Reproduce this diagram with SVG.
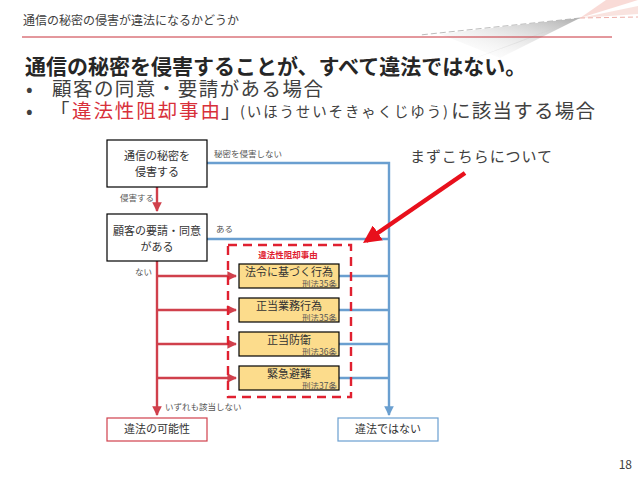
<svg xmlns="http://www.w3.org/2000/svg" width="638" height="479" viewBox="0 0 638 479">
<defs>
<style>
text{font-family:"Noto Sans CJK JP","Noto Sans",sans-serif;fill:#404040}
.box{fill:#fff;stroke:#000;stroke-width:1.2}
.yb{fill:#fcdc8c;stroke:#000;stroke-width:1.2}
.c{text-anchor:middle}
.lbl{font-size:8.5px;fill:#555}
.main{font-size:11px;fill:#333}
.sub{font-size:8.5px;fill:#555;text-anchor:end}
.big{font-size:19.5px}
.red{stroke:#d0404c;stroke-width:2.4;fill:none}
.blue{stroke:#6a9fd0;stroke-width:2.4;fill:none}
</style>
<marker id="ar" viewBox="0 0 10 10" refX="9" refY="5" markerWidth="4" markerHeight="4" orient="auto"><path d="M0,0L10,5L0,10z" fill="#d0404c"/></marker>
<marker id="ab" viewBox="0 0 10 10" refX="9" refY="5" markerWidth="4" markerHeight="4" orient="auto"><path d="M0,0L10,5L0,10z" fill="#6a9fd0"/></marker>
<marker id="abig" viewBox="0 0 10 10" refX="8" refY="5" markerWidth="4" markerHeight="4" orient="auto"><path d="M0,0L10,5L0,10z" fill="#e8101c"/></marker>
<linearGradient id="g1" x1="1" y1="0" x2="0" y2="1"><stop offset="0" stop-color="#999"/><stop offset="1" stop-color="#fff" stop-opacity="0"/></linearGradient>
</defs>
<g id="decoration">
<polygon points="580,18 440,34 500,58" fill="url(#g1)" opacity="0.8"/>
<polygon points="580,18 520,42 470,60" fill="#ccc" opacity="0.4"/>
<line x1="580" y1="18" x2="420" y2="35" stroke="#aaa" stroke-width="0.8" stroke-dasharray="6,3"/>
<polygon points="580,18 606,0 638,0" fill="#f4b8b0" opacity="0.5"/>
<polygon points="580,18 638,6 638,14" fill="#f4c8c0" opacity="0.5"/>
<line x1="580" y1="18" x2="638" y2="17" stroke="#e89890" stroke-width="0.8" stroke-dasharray="5,3"/>
<line x1="22" y1="37" x2="612" y2="37" stroke="#c8303a" stroke-width="1"/>
</g>
<g id="header">
<text x="23" y="25" font-size="12" fill="#404040">通信の秘密の侵害が違法になるかどうか</text>
<text x="25" y="74" font-size="21" font-weight="bold" style="fill:#262626">通信の秘密を侵害することが、すべて違法ではない。</text>
<text x="26" y="96" class="big">•</text>
<text x="52" y="96" class="big" textLength="271" lengthAdjust="spacing">顧客の同意・要請がある場合</text>
<text x="26" y="118" class="big">•</text>
<text x="50" y="118" class="big">「</text>
<text x="72" y="118" class="big" textLength="148" lengthAdjust="spacing" style="fill:#d8303a">違法性阻却事由</text>
<text x="221" y="118" class="big">」</text>
<text x="240" y="117" font-size="14.5" textLength="208" lengthAdjust="spacing">(いほうせいそきゃくじゆう)</text>
<text x="451" y="118" class="big" textLength="144" lengthAdjust="spacing">に該当する場合</text>
</g>
<g id="connectors">
<path class="blue" d="M207,163H389V415" marker-end="url(#ab)"/>
<path class="blue" d="M207,239H389"/>
<path class="blue" d="M339,276H389M339,310H389M339,344H389M339,378H389"/>
<path class="red" d="M157,187V211" marker-end="url(#ar)"/>
<path class="red" d="M157,261V415" marker-end="url(#ar)"/>
<path d="M157,276H236" class="red" marker-end="url(#ar)"/>
<path d="M157,310H236" class="red" marker-end="url(#ar)"/>
<path d="M157,344H236" class="red" marker-end="url(#ar)"/>
<path d="M157,378H236" class="red" marker-end="url(#ar)"/>
<text class="lbl" x="214" y="157">秘密を侵害しない</text>
<text class="lbl" x="120" y="201">侵害する</text>
<text class="lbl" x="216" y="232">ある</text>
<text class="lbl" x="135" y="275">ない</text>
<text class="lbl" x="165" y="410">いずれも該当しない</text>
</g>
<g id="n1"><rect class="box" x="107" y="140" width="100" height="47"/><text class="c main" x="157" y="160">通信の秘密を</text><text class="c main" x="157" y="176">侵害する</text></g>
<g id="n2"><rect class="box" x="107" y="214" width="100" height="47"/><text class="c main" x="157" y="235">顧客の要請・同意</text><text class="c main" x="157" y="251">がある</text></g>
<g id="group">
<rect x="228" y="245" width="123" height="152" fill="none" stroke="#e02030" stroke-width="2.4" stroke-dasharray="9,6"/>
<text class="c" x="288" y="258" font-size="8.5" font-weight="bold" style="fill:#e02030">違法性阻却事由</text>
</g>
<g id="y1"><rect class="yb" x="239" y="264" width="100" height="24"/><text class="c main" x="289" y="276">法令に基づく行為</text><text class="sub" x="337" y="287">刑法35条</text></g>
<g id="y2"><rect class="yb" x="239" y="298" width="100" height="24"/><text class="c main" x="289" y="310">正当業務行為</text><text class="sub" x="337" y="321">刑法35条</text></g>
<g id="y3"><rect class="yb" x="239" y="332" width="100" height="24"/><text class="c main" x="289" y="344">正当防衛</text><text class="sub" x="337" y="355">刑法36条</text></g>
<g id="y4"><rect class="yb" x="239" y="366" width="100" height="24"/><text class="c main" x="289" y="378">緊急避難</text><text class="sub" x="337" y="389">刑法37条</text></g>
<g id="r1"><rect x="107" y="418" width="100" height="23" fill="#fff" stroke="#d0404c" stroke-width="1.2"/><text class="c main" x="157" y="433">違法の可能性</text></g>
<g id="r2"><rect x="338" y="418" width="100" height="23" fill="#fff" stroke="#6a9fd0" stroke-width="1.2"/><text class="c main" x="388" y="433">違法ではない</text></g>
<g id="callout">
<text x="410" y="162" font-size="15" fill="#333" textLength="142" lengthAdjust="spacing">まずこちらについて</text>
<line x1="465" y1="173" x2="366" y2="241" stroke="#e8101c" stroke-width="4.5" marker-end="url(#abig)"/>
</g>
<text x="632" y="469" font-size="12" text-anchor="end" fill="#404040">18</text>
</svg>
